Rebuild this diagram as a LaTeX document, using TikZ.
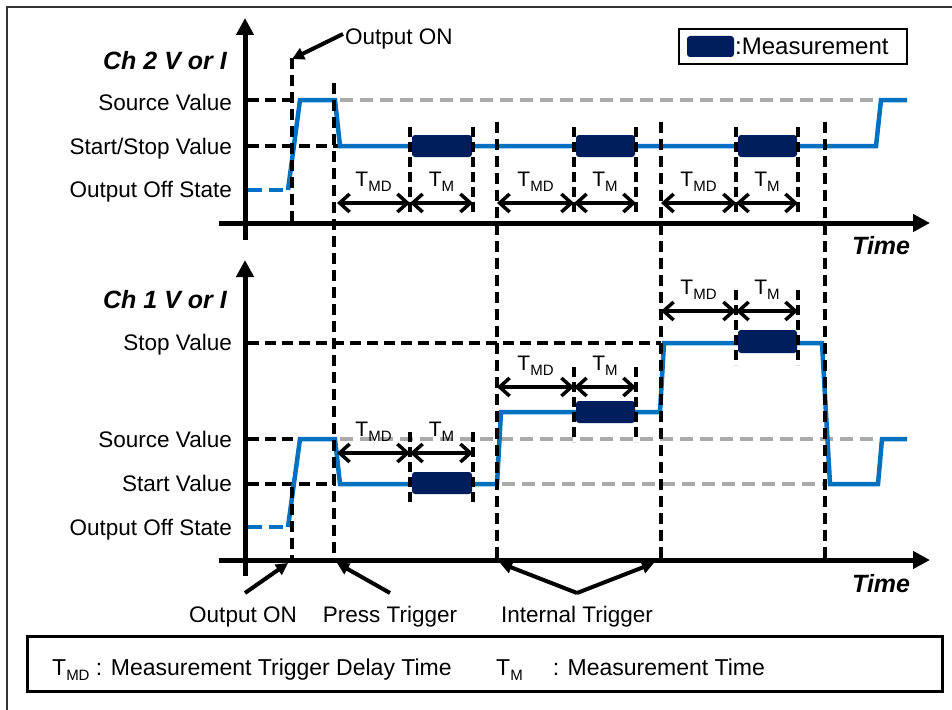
\documentclass[tikz,border=0pt]{standalone}
\usepackage{fontspec}
\setmainfont{Liberation Sans}
\usetikzlibrary{arrows.meta}
\definecolor{sigblue}{HTML}{0070C0}
\definecolor{navy}{HTML}{001E5C}
\definecolor{gry}{HTML}{AAAAAA}
\newcommand\Tsub[3]{{\fontsize{#1}{#1}\selectfont T\raisebox{-5pt}{\fontsize{#2}{#2}\selectfont #3}}}
\begin{document}
\begin{tikzpicture}[x=1pt,y=-1pt,
  frame/.style={line width=2pt,black!80},
  axisline/.style={line width=5pt,-{Triangle[length=17pt,width=17pt]}},
  bdash/.style={line width=4pt,dash pattern=on 11pt off 6pt},
  gdash/.style={line width=4pt,gry,dash pattern=on 13pt off 7pt},
  sig/.style={line width=4.5pt,sigblue,line join=miter},
  sigdash/.style={line width=4.5pt,sigblue,dash pattern=on 14pt off 7pt},
  measbar/.style={fill=navy,rounded corners=3pt},
  mdash/.style={line width=4pt,dash pattern=on 10pt off 5pt},
  dimarrow/.style={line width=3.5pt,{Straight Barb[length=10pt,width=18pt,line width=3.5pt]}-{Straight Barb[length=10pt,width=18pt,line width=3.5pt]}},
  callout/.style={line width=4pt,-{Triangle[length=12pt,width=12pt]}},
  lvl/.style={anchor=base east,inner sep=0pt,font=\fontsize{22.5}{24}\selectfont},
  chlab/.style={anchor=base east,inner sep=0pt,font=\fontsize{25}{26}\selectfont\bfseries\itshape},
  timelab/.style={anchor=base west,inner sep=0pt,font=\fontsize{25}{26}\selectfont\bfseries\itshape},
  txt/.style={inner sep=0pt,font=\fontsize{22.5}{24}\selectfont},
  tlab/.style={anchor=base,inner sep=0pt}
]
\useasboundingbox (0,0) rectangle (952,709);
\fill[white] (0,0) rectangle (952,709);
\draw[frame] (7,715) -- (7,7) -- (958,7);

% ---------- grey reference dashes ----------
\draw[gdash] (340,100) -- (878,100);
\draw[gdash] (340,439) -- (878,439);
\draw[gdash] (502,484) -- (825,484);

% ---------- black level dashes ----------
\draw[bdash] (248,100) -- (300,100);
\draw[bdash] (248,146) -- (340,146);
\draw[bdash] (248,343) -- (661,343);
\draw[bdash] (248,439) -- (300,439);
\draw[bdash] (248,484) -- (336,484);

% ---------- signals ----------
\draw[sigdash] (248,190) -- (288,190);
\draw[sig] (288,190) -- (300,100) -- (335,100) -- (340,146) -- (876,146) -- (881,100) -- (907,100);
\draw[sigdash] (248,527) -- (288,527);
\draw[sig] (288,527) -- (300,439) -- (335,439) -- (340,484) -- (497,484) -- (501,412) -- (660,412)
  -- (664,343) -- (822,343) -- (830,484) -- (878,484) -- (882,439) -- (907,439);

% ---------- measurement groups, Ch 2 ----------
\foreach \a/\b/\c in {337/410/473, 497/574/636, 661/736/798}{
  \fill[measbar] (\b+2,135) rectangle (\c-1,157);
  \draw[mdash] (\b,127) -- (\b,212);
  \draw[mdash] (\c,127) -- (\c,212);
  \draw[dimarrow] (\a,203) -- (\b,203);
  \draw[dimarrow] (\b,203) -- (\c,203);
  \node[tlab] at ({(\a+\b)/2},186) {\Tsub{21}{15}{MD}};
  \node[tlab] at ({(\b+\c)/2},186) {\Tsub{21}{15}{M}};
}
% ---------- measurement groups, Ch 1 ----------
\foreach \a/\b/\c/\ay/\dt/\db/\bt/\bb in {337/410/473/453/432/505/472/494, 497/574/636/387/367/442/401/423, 661/736/798/311/290/365/330/353}{
  \fill[measbar] (\b+2,\bt) rectangle (\c-1,\bb);
  \draw[mdash] (\b,\dt) -- (\b,\db);
  \draw[mdash] (\c,\dt) -- (\c,\db);
  \draw[dimarrow] (\a,\ay) -- (\b,\ay);
  \draw[dimarrow] (\b,\ay) -- (\c,\ay);
  \node[tlab] at ({(\a+\b)/2},\ay-17) {\Tsub{21}{15}{MD}};
  \node[tlab] at ({(\b+\c)/2},\ay-17) {\Tsub{21}{15}{M}};
}

% ---------- trigger lines ----------
\draw[bdash] (292,58) -- (292,223);
\draw[bdash] (292,487) -- (292,560);
\draw[bdash] (334,83) -- (334,560);
\foreach \x in {497,661,825} \draw[bdash] (\x,122) -- (\x,560);

% ---------- axes ----------
\draw[axisline] (245,240) -- (245,18);
\draw[axisline] (219,223) -- (930,223);
\draw[axisline] (245,576) -- (245,260);
\draw[axisline] (219,560) -- (930,560);

% ---------- axis labels ----------
\node[chlab] (ch2) at (227,70) {Ch 2 V or I};
\node[chlab] (ch1) at (227,308) {Ch 1 V or I};
\node[timelab] (time2) at (852,254) {Time};
\node[timelab] (time1) at (852,592) {Time};

\node[lvl] (src2) at (232,110) {Source Value};
\node[lvl] (ss2) at (232,154) {Start/Stop Value};
\node[lvl] (off2) at (232,197) {Output Off State};
\node[lvl] (stop1) at (232,350) {Stop Value};
\node[lvl] (src1) at (232,447) {Source Value};
\node[lvl] (start1) at (232,491) {Start Value};
\node[lvl] (off1) at (232,535) {Output Off State};

% ---------- callouts ----------
\node[txt,anchor=base west] (oon2) at (345,45) {Output ON};
\coordinate (oon2tip) at (292,59);
\draw[callout] (343,34) -- (oon2tip);

\node[txt,anchor=base] (oon1) at (243,622) {Output ON};
\node[txt,anchor=base] (ptrig) at (390,622) {Press Trigger};
\node[txt,anchor=base] (itrig) at (577,622) {Internal Trigger};
\coordinate (oon1s) at (245,593);
\coordinate (oon1t) at (288,563);
\coordinate (ptrigs) at (390,593);
\coordinate (ptrigt) at (337,563);
\coordinate (itrigs) at (577,593);
\coordinate (itrigt1) at (500,563);
\coordinate (itrigt2) at (654,563);
\draw[callout] (oon1s) -- (oon1t);
\draw[callout] (ptrigs) -- (ptrigt);
\draw[callout] (itrigs) -- (itrigt1);
\draw[callout] (itrigs) -- (itrigt2);

% ---------- legend ----------
\draw[line width=2.5pt] (679,29) rectangle (907,64);
\fill[measbar] (687,36) rectangle (734,57);
\node[inner sep=0pt,anchor=base west,font=\fontsize{24}{26}\selectfont] (legtxt) at (735,55) {:Measurement};

% ---------- definitions box ----------
\draw[line width=3pt] (27,636) rectangle (942,691);
\node[inner sep=0pt,anchor=base west,font=\fontsize{23}{25}\selectfont] (deftmd) at (52,675) {\Tsub{23}{15}{MD} : Measurement Trigger Delay Time};
\node[inner sep=0pt,anchor=base west,font=\fontsize{23}{25}\selectfont] (deftm) at (496,675) {\Tsub{23}{15}{M}\hspace{30pt}: Measurement Time};
\end{tikzpicture}
\end{document}
